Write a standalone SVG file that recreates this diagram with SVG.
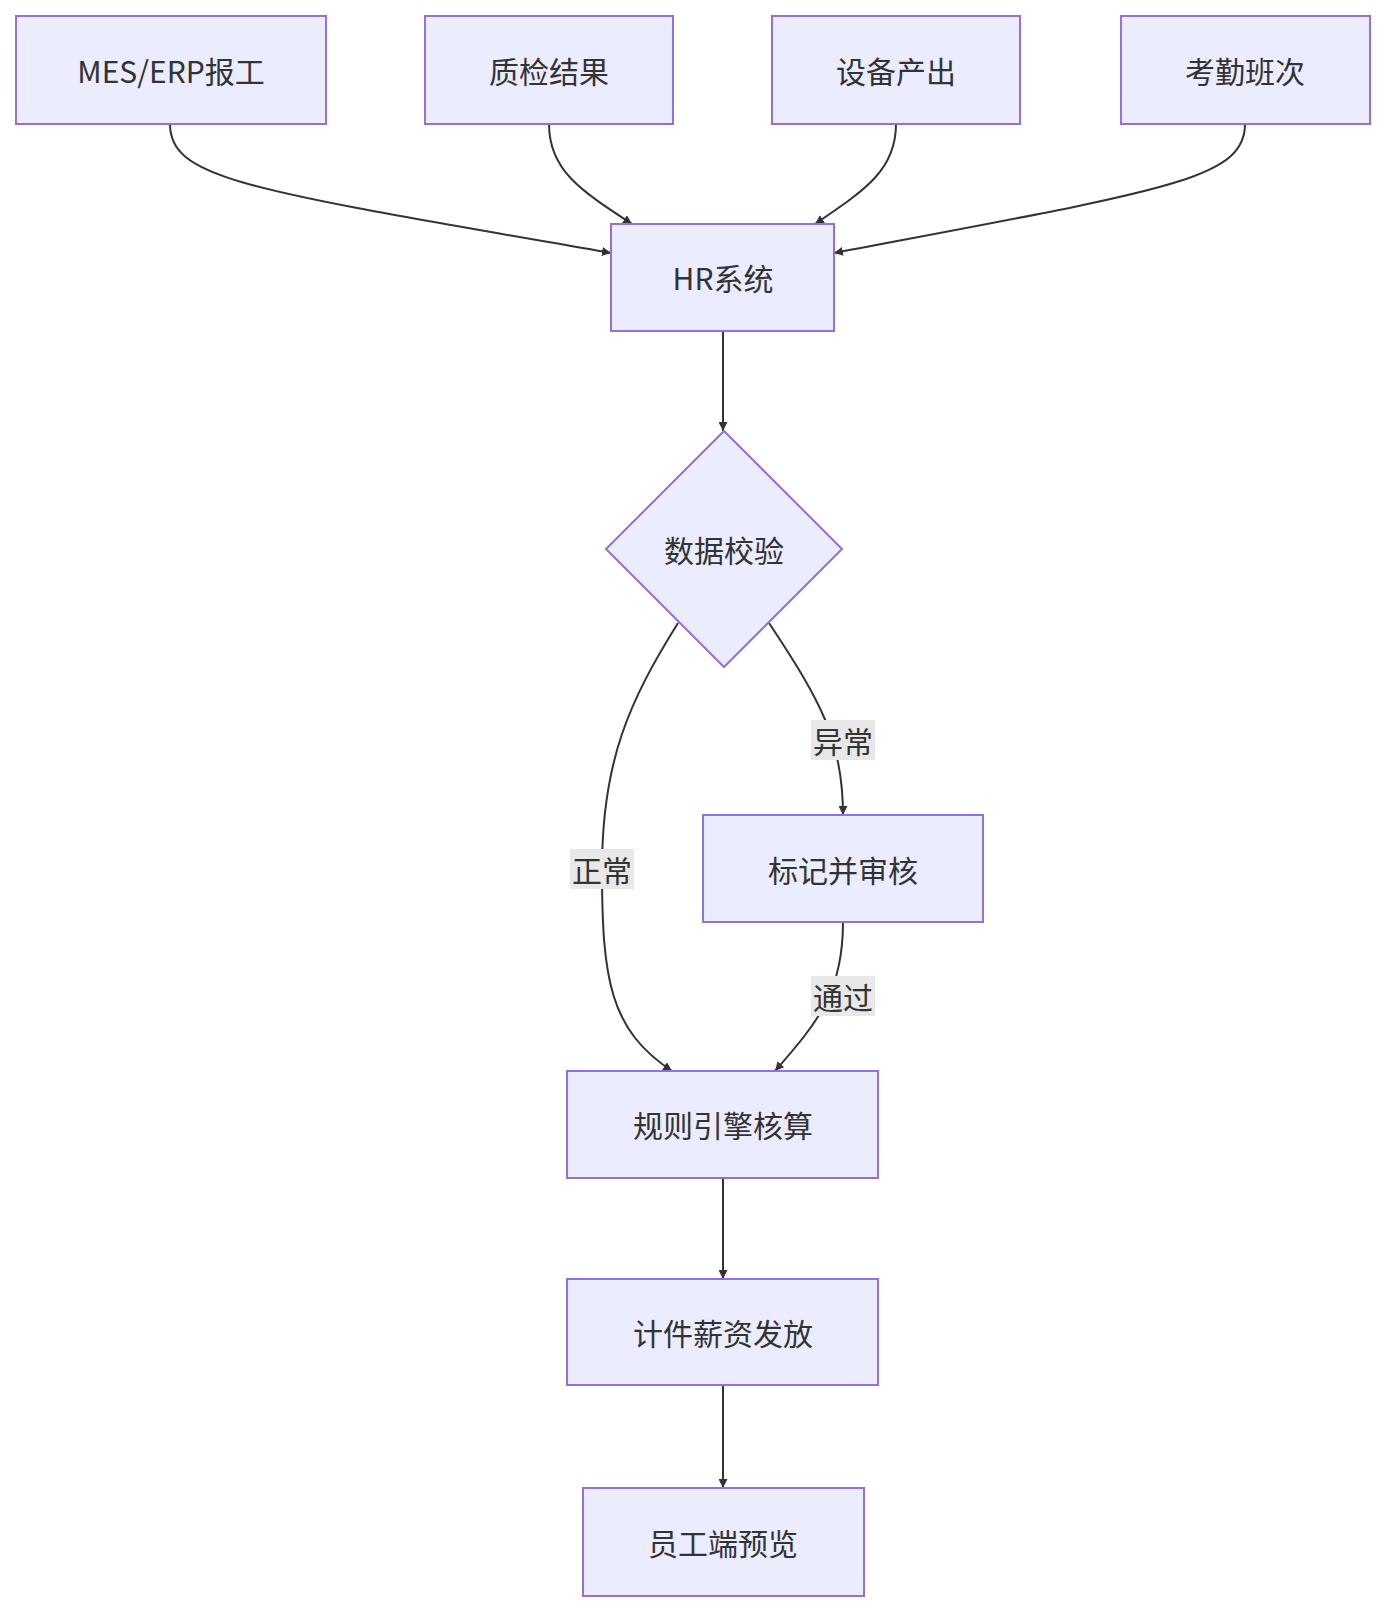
<svg xmlns="http://www.w3.org/2000/svg" width="1385" height="1612" viewBox="0 0 1385 1612">
<style>
.n{fill:#ECECFF;stroke:#9370DB;stroke-width:2}
.t{font-family:"Noto Sans CJK SC","Noto Sans",sans-serif;font-size:30px;fill:#333;text-anchor:middle;dominant-baseline:central}
.e{fill:none;stroke:#333;stroke-width:2}
.lb{fill:#e8e8e8}
</style>
<defs><marker id="a" viewBox="0 0 10 10" refX="10" refY="5" markerWidth="9" markerHeight="9" markerUnits="userSpaceOnUse" orient="auto"><path d="M0,0L10,5L0,10z" fill="#333"/></marker></defs>
<rect width="1385" height="1612" fill="#fff"/>
<g id="edges">
<path class="e" marker-end="url(#a)" d="M170,124 C170,180 250,190 611,253"/>
<path class="e" marker-end="url(#a)" d="M549,124 C549,170 580,190 632,224"/>
<path class="e" marker-end="url(#a)" d="M896,124 C896,170 865,190 815,224"/>
<path class="e" marker-end="url(#a)" d="M1245,124 C1245,180 1165,190 834,253"/>
<path class="e" marker-end="url(#a)" d="M723,331 L723,431"/>
<path class="e" marker-end="url(#a)" d="M678,623 C630,700 602,760 602,869 C602,980 610,1030 672,1071"/>
<path class="e" marker-end="url(#a)" d="M769,623 C820,700 843,740 843,815"/>
<path class="e" marker-end="url(#a)" d="M843,922 C843,990 820,1020 775,1071"/>
<path class="e" marker-end="url(#a)" d="M723,1178 L723,1279"/>
<path class="e" marker-end="url(#a)" d="M723,1385 L723,1488"/>
<rect class="lb" x="811" y="720" width="64" height="40"/><text class="t" x="843" y="740">异常</text>
<rect class="lb" x="570" y="849" width="64" height="40"/><text class="t" x="602" y="869">正常</text>
<rect class="lb" x="811" y="976" width="64" height="40"/><text class="t" x="843" y="996">通过</text>
</g>
<g id="mes"><rect class="n" x="16" y="16" width="310" height="108"/><text class="t" x="171" y="70">MES/ERP报工</text></g>
<g id="qc"><rect class="n" x="425" y="16" width="248" height="108"/><text class="t" x="549" y="70">质检结果</text></g>
<g id="eq"><rect class="n" x="772" y="16" width="248" height="108"/><text class="t" x="896" y="70">设备产出</text></g>
<g id="att"><rect class="n" x="1121" y="16" width="249" height="108"/><text class="t" x="1245" y="70">考勤班次</text></g>
<g id="hr"><rect class="n" x="611" y="224" width="223" height="107"/><text class="t" x="723" y="277">HR系统</text></g>
<g id="chk"><path class="n" d="M724,431 L842,549 L724,667 L606,549 Z"/><text class="t" x="724" y="549">数据校验</text></g>
<g id="mark"><rect class="n" x="703" y="815" width="280" height="107"/><text class="t" x="843" y="869">标记并审核</text></g>
<g id="rule"><rect class="n" x="567" y="1071" width="311" height="107"/><text class="t" x="723" y="1124">规则引擎核算</text></g>
<g id="pay"><rect class="n" x="567" y="1279" width="311" height="106"/><text class="t" x="723" y="1332">计件薪资发放</text></g>
<g id="emp"><rect class="n" x="583" y="1488" width="281" height="108"/><text class="t" x="723" y="1542">员工端预览</text></g>
</svg>
